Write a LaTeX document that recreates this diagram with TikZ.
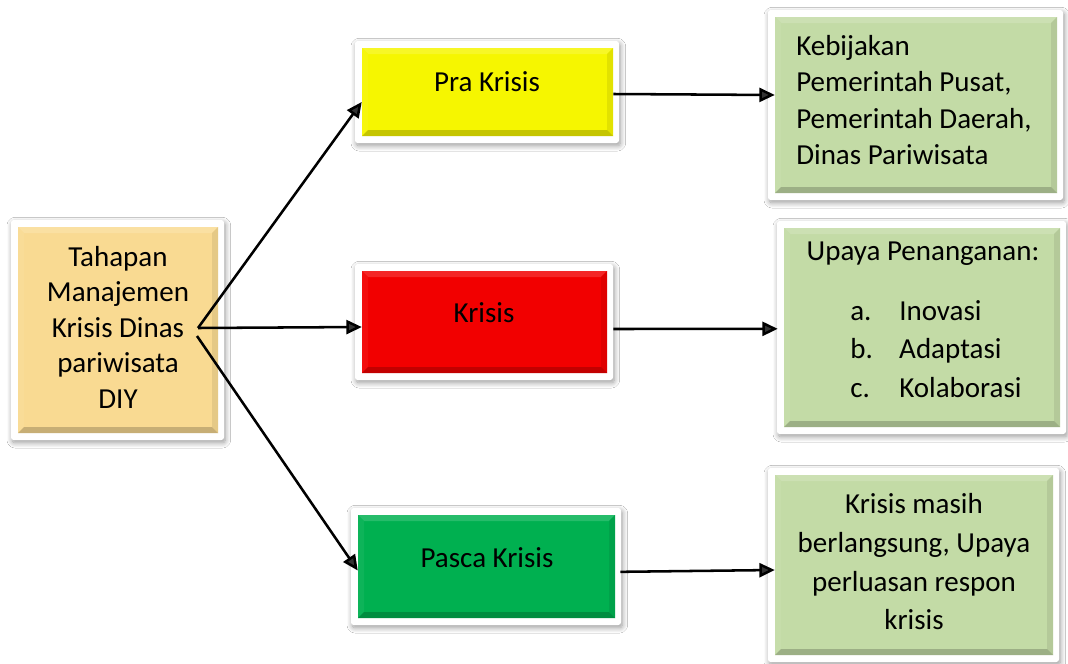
\documentclass[tikz,border=0pt]{standalone}
\usepackage{fontspec}
\setmainfont{Carlito}
\usetikzlibrary{arrows.meta,fit,shadows.blur}
\definecolor{cTah}{HTML}{F9DA92}
\definecolor{cYel}{HTML}{F6F600}
\definecolor{cRed}{HTML}{F20000}
\definecolor{cGrn}{HTML}{00B050}
\definecolor{cLgr}{HTML}{C3DBA6}
\tikzset{
  frame/.style={fill=white, rounded corners=2pt,
    blur shadow={shadow xshift=1pt, shadow yshift=-2pt, shadow blur radius=4pt, shadow blur steps=10, shadow opacity=40}},
  lbl/.style={font=\fontsize{21.75}{26.6}\selectfont, inner sep=0pt, align=center},
  arr/.style={line width=1.9pt, -{Triangle[length=11.5pt,width=10.5pt]}},
  boxnode/.style={inner sep=0pt}
}
% #1 name, #2 x1, #3 y1, #4 x2, #5 y2, #6 colour
\newcommand\bevelbox[6]{%
  \path[frame] (#2-7,#3-7) rectangle (#4+6,#5+7);
  \fill[#6] (#2,#3) rectangle (#4,#5);
  \fill[#6!85!white] (#2,#3) -- (#4,#3) -- (#4-6,#3+6) -- (#2+6,#3+6) -- cycle;
  \fill[#6!95!white] (#2,#3) -- (#2+6,#3+6) -- (#2+6,#5-6) -- (#2,#5) -- cycle;
  \fill[#6!92!black] (#4,#3) -- (#4-6,#3+6) -- (#4-6,#5-6) -- (#4,#5) -- cycle;
  \fill[#6!80!black] (#2,#5) -- (#2+6,#5-6) -- (#4-6,#5-6) -- (#4,#5) -- cycle;
  \node[boxnode, fit={(#2,#3)(#4,#5)}] (#1) {};
}
\begin{document}
\begin{tikzpicture}[x=0.75pt,y=-0.75pt]
\useasboundingbox (0,0) rectangle (1068,664);
\fill[white] (0,0) rectangle (1068,664);

\bevelbox{tah}{18}{227}{218}{433}{cTah}
\bevelbox{pra}{362}{48}{613}{136}{cYel}
\bevelbox{kri}{362}{271}{607}{373}{cRed}
\bevelbox{pas}{358}{515}{615}{618}{cGrn}
\bevelbox{keb}{775}{17}{1057}{193}{cLgr}
\bevelbox{upa}{784}{228}{1060}{427}{cLgr}
\bevelbox{mas}{775}{475}{1053}{655}{cLgr}

\node[lbl] (tTah) at (118,327) {Tahapan\\Manajemen\\Krisis Dinas\\pariwisata\\DIY};
\node[lbl] (tPra) at (487,82) {Pra Krisis};
\node[lbl] (tKri) at (484,313) {Krisis};
\node[lbl] (tPas) at (487,558) {Pasca Krisis};
\node[lbl, align=left, anchor=west, font=\fontsize{21.75}{27.2}\selectfont] (tKeb) at (796,100) {Kebijakan\\Pemerintah Pusat,\\Pemerintah Daerah,\\Dinas Pariwisata};
\node[lbl] (tUpa) at (923,254) {Upaya Penanganan:};
\node[lbl, align=left, anchor=west, font=\fontsize{21.75}{28.6}\selectfont] (tList) at (850,349) {\makebox[36.75pt][l]{a.}Inovasi\\\makebox[36.75pt][l]{b.}Adaptasi\\\makebox[36.75pt][l]{c.}Kolaborasi};
\node[lbl, font=\fontsize{21.75}{29}\selectfont] (tMas) at (914,562) {Krisis masih\\berlangsung, Upaya\\perluasan respon\\krisis};

\coordinate (src) at (198,328);
\coordinate (src2) at (197,336);
\draw[arr] (src) -- ([yshift=-7.5pt]pra.west);
\draw[arr] (src) -- ([yshift=-3.75pt]kri.west);
\draw[arr] (src2) -- ([yshift=-3pt]pas.west);
\draw[arr] ([yshift=-1.5pt]pra.east) -- ([yshift=7.5pt]keb.west);
\draw[arr] ([xshift=4.5pt,yshift=-5.25pt]kri.east) -- ([xshift=-4.5pt,yshift=-1pt]upa.west);
\draw[arr] ([xshift=3.75pt,yshift=-4pt]pas.east) -- ([yshift=-3.75pt]mas.west);
\end{tikzpicture}
\end{document}
